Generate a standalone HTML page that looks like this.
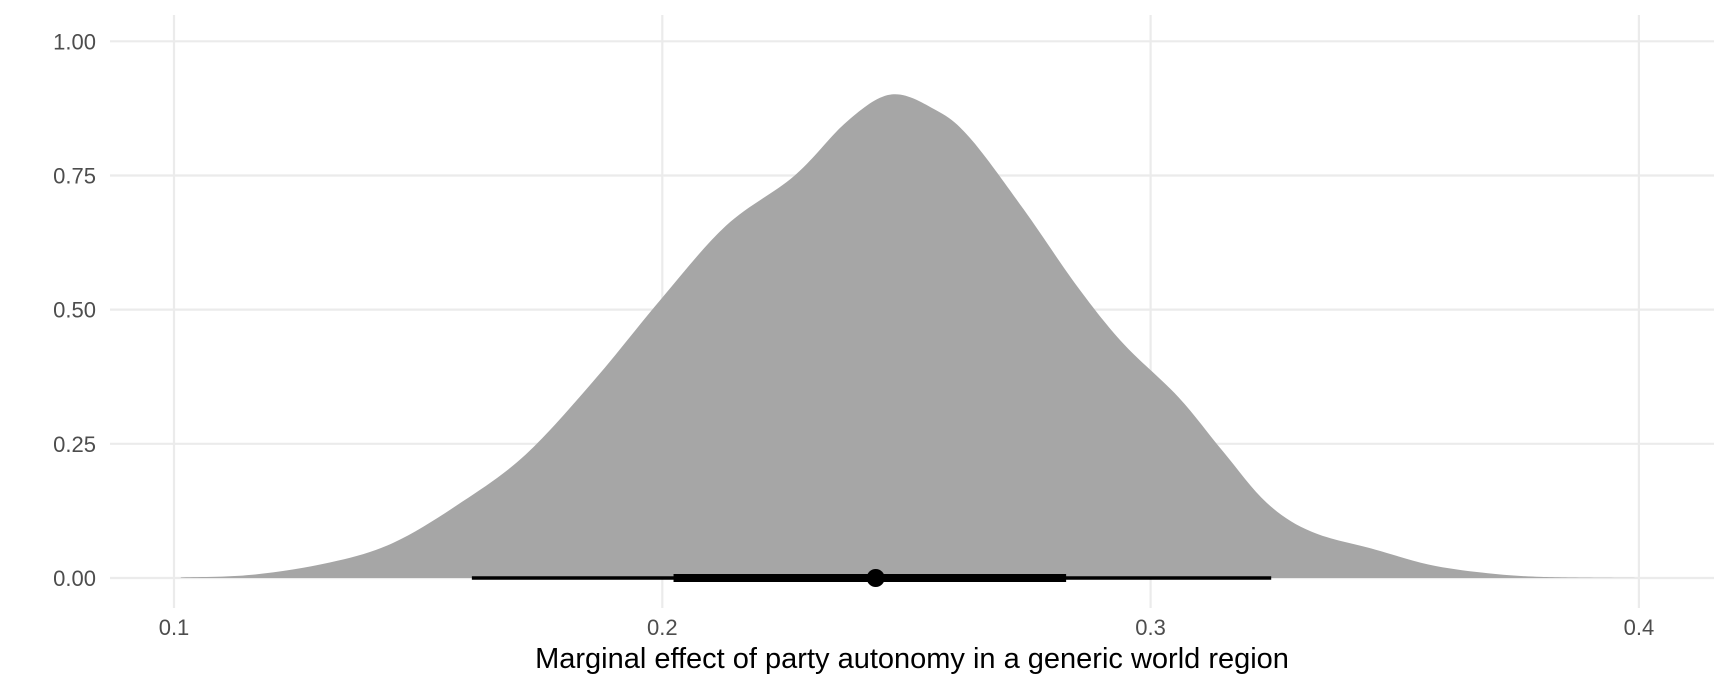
<!DOCTYPE html>
<html><head><meta charset="utf-8"><style>
body{margin:0;background:#fff;}
svg{display:block;font-family:"Liberation Sans",sans-serif;}
</style></head><body>
<svg id="chart" width="1728" height="691"></svg>
<script>
const xTicks=[0.1,0.2,0.3,0.4];
const yTicks=[0,0.25,0.5,0.75,1];
const yTickLabels=["0.00","0.25","0.50","0.75","1.00"];
const densX=[0.1014,0.116,0.132,0.145,0.159,0.172,0.186,0.1996,0.213,0.227,0.238,0.247,0.256,0.263,0.274,0.285,0.2945,0.3057,0.3149,0.3238,0.333,0.346,0.357,0.368,0.380,0.400];
const densY=[0.001,0.006,0.029,0.066,0.142,0.23,0.368,0.518,0.656,0.749,0.852,0.901,0.872,0.82,0.687,0.543,0.436,0.337,0.235,0.14,0.086,0.053,0.025,0.01,0.002,0.0];
const interval95=[0.161,0.3247];
const interval66=[0.2023,0.2827];
const pointEst=[0.2437];
const NS="http://www.w3.org/2000/svg";
const svg=document.getElementById('chart');
const X=v=>174+(v-0.1)*4883;
const Y=d=>578-d*536.7;
function mk(t,a,p){const e=document.createElementNS(NS,t);for(const k in a)e.setAttribute(k,a[k]);(p||svg).appendChild(e);return e;}
xTicks.forEach((t,i)=>{
 const l=mk('line',{x1:X(t),x2:X(t),y1:15,y2:608,stroke:'#ebebeb','stroke-width':2.2});
 
 
 const tx=mk('text',{x:X(t),y:635,'font-size':22,fill:'#4d4d4d','text-anchor':'middle'});
 tx.textContent=String(t);
 
 
});
yTicks.forEach((t,i)=>{
 const l=mk('line',{x1:110,x2:1714,y1:Y(t),y2:Y(t),stroke:'#ebebeb','stroke-width':2.2});
 
 
 const tx=mk('text',{x:96,y:Y(t)+8,'font-size':22,fill:'#4d4d4d','text-anchor':'end'});
 tx.textContent=yTickLabels[i];
 
 
});
const pts=densX.map((v,i)=>[X(v),Y(densY[i])]);
let d='M'+pts[0][0]+','+Y(0)+' L'+pts[0][0].toFixed(1)+','+pts[0][1].toFixed(1);
for(let i=0;i<pts.length-1;i++){
 const p0=pts[Math.max(0,i-1)],p1=pts[i],p2=pts[i+1],p3=pts[Math.min(pts.length-1,i+2)];
 const c1=[p1[0]+(p2[0]-p0[0])/6,p1[1]+(p2[1]-p0[1])/6];
 const c2=[p2[0]-(p3[0]-p1[0])/6,p2[1]-(p3[1]-p1[1])/6];
 d+=' C'+c1[0].toFixed(1)+','+Math.min(c1[1],Y(0)).toFixed(1)+' '+c2[0].toFixed(1)+','+Math.min(c2[1],Y(0)).toFixed(1)+' '+p2[0].toFixed(1)+','+p2[1].toFixed(1);
}
d+=' L'+pts[pts.length-1][0]+','+Y(0)+' Z';
const area=mk('path',{d:d,fill:'#a6a6a6'});


const l95=mk('line',{x1:X(interval95[0]),x2:X(interval95[1]),y1:Y(0),y2:Y(0),stroke:'#000','stroke-width':3.5});


const l66=mk('line',{x1:X(interval66[0]),x2:X(interval66[1]),y1:Y(0),y2:Y(0),stroke:'#000','stroke-width':8});


const pt=mk('circle',{cx:X(pointEst[0]),cy:Y(0),r:9,fill:'#000'});


const title=mk('text',{x:912,y:668,'font-size':29,fill:'#000','text-anchor':'middle'});
title.textContent='Marginal effect of party autonomy in a generic world region';


</script>
</body></html>
